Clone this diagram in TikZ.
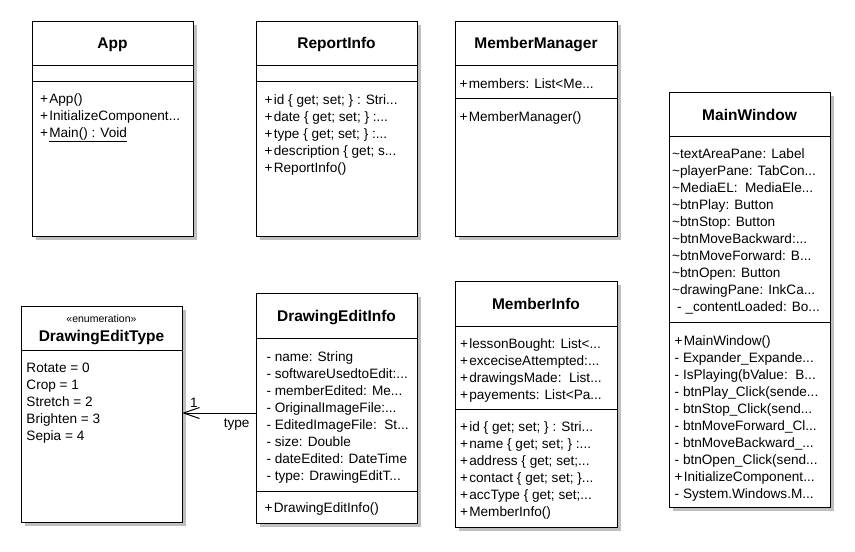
\documentclass[tikz,border=0pt]{standalone}
\usepackage{fontspec}
\setmainfont{Liberation Sans}
\usetikzlibrary{arrows.meta}
\tikzset{
  box/.style={draw=black, line width=1pt, fill=white, inner sep=0pt, outer sep=0pt, anchor=north west},
  shadow/.style={fill=black!25, draw=none},
  ttl/.style={font=\fontsize{15.5}{18}\selectfont\bfseries, anchor=base, inner sep=0pt},
  stereo/.style={font=\fontsize{10.5}{12}\selectfont, anchor=base, inner sep=0pt},
  txt/.style={font=\fontsize{13.6}{17}\selectfont, anchor=base west, inner sep=0pt},
  sepline/.style={line width=1pt},
  assoc/.style={line width=1pt, -{Straight Barb[length=16pt,width=11pt]}},
}
\newcommand\trc{{.}{.}{.}}
\newcommand\pl{+\kern1.2pt}
\newcommand\umlbox[5]{%
  \fill[shadow] (#2+4,#3+4) rectangle (#4+4,#5+4);
  \node[box, minimum width={(#4-#2)*1pt}, minimum height={(#5-#3)*1pt}] (#1) at (#2,#3) {};
}
\newcommand\umlsep[2]{\draw[sepline] (#1.west |- 0,#2) -- (#1.east |- 0,#2);}
\newcommand\umltext[4]{%
  \foreach \t [count=\i from 0] in {#4} {\node[txt] (#1-\i) at (#2,#3+17*\i) {\t};}
}
\begin{document}
\begin{tikzpicture}[x=1pt,y=-1pt]
\useasboundingbox (0,0) rectangle (855,552);
\fill[white] (0,0) rectangle (855,552);

% App
\umlbox{app}{32}{21}{193}{236}
\umlsep{app}{65}\umlsep{app}{81}
\node[ttl] (app-title) at (112.5,48) {App};
\umltext{appm}{40}{103}{\pl App(),\pl InitializeComponent\trc,\pl\underline{Main() : Void}}

% ReportInfo
\umlbox{rep}{256}{21}{417}{236}
\umlsep{rep}{65}\umlsep{rep}{81}
\node[ttl] (rep-title) at (336.5,48) {ReportInfo};
\umltext{repm}{264.5}{104}{\pl id \{ get; set; \} : Stri\trc,\pl date \{ get; set; \} :\trc,\pl type \{ get; set; \} :\trc,\pl description \{ get; s\trc,\pl ReportInfo()}

% MemberManager
\umlbox{mm}{455}{21}{617}{236}
\umlsep{mm}{65}\umlsep{mm}{98}
\node[ttl] (mm-title) at (536,48) {MemberManager};
\umltext{mma}{459.5}{88}{\pl members: List<Me\trc}
\umltext{mmm}{459.5}{121}{\pl MemberManager()}

% MainWindow
\umlbox{mw}{669}{92}{830}{507}
\umlsep{mw}{136}\umlsep{mw}{322}
\node[ttl] (mw-title) at (749.5,120.5) {MainWindow};
\umltext{mwa}{672}{158.5}{\textasciitilde textAreaPane: Label,\textasciitilde playerPane: TabCon\trc,\textasciitilde MediaEL:\ \ MediaEle\trc,\textasciitilde btnPlay: Button,\textasciitilde btnStop: Button,\textasciitilde btnMoveBackward:\trc,\textasciitilde btnMoveForward: B\trc,\textasciitilde btnOpen: Button,\textasciitilde drawingPane: InkCa\trc,\hspace{5pt}- \_contentLoaded: Bo\trc}
\umltext{mwm}{674.5}{345}{\pl MainWindow(),- Expander\_Expande\trc,- IsPlaying(bValue:\ \ B\trc,- btnPlay\_Click(sende\trc,- btnStop\_Click(send\trc,- btnMoveForward\_Cl\trc,- btnMoveBackward\_\trc,- btnOpen\_Click(send\trc,\pl InitializeComponent\trc,- System.Windows.M\trc}

% DrawingEditType
\umlbox{det}{21}{306}{182}{522}
\umlsep{det}{350}
\node[stereo] (det-st) at (101.5,322) {«enumeration»};
\node[ttl] (det-title) at (101.5,341.5) {DrawingEditType};
\umltext{detv}{26.3}{372.5}{Rotate = 0,Crop = 1,Stretch = 2,Brighten = 3,Sepia = 4}

% DrawingEditInfo
\umlbox{dei}{256}{293}{417}{523}
\umlsep{dei}{338}\umlsep{dei}{491}
\node[ttl] (dei-title) at (336.5,321.5) {DrawingEditInfo};
\umltext{deia}{266.3}{361}{- name: String,- softwareUsedtoEdit:\trc,- memberEdited: Me\trc,- OriginalImageFile:\trc,- EditedImageFile:\ \ St\trc,- size: Double,- dateEdited: DateTime,- type: DrawingEditT\trc}
\umltext{deim}{264.5}{512.5}{\pl DrawingEditInfo()}

% MemberInfo
\umlbox{mi}{455}{281}{617}{527}
\umlsep{mi}{326}\umlsep{mi}{409}
\node[ttl] (mi-title) at (536,309.3) {MemberInfo};
\umltext{mia}{460}{348}{\pl lessonBought: List<\trc,\pl exceciseAttempted:\trc,\pl drawingsMade:\ \ List\trc,\pl payements: List<Pa\trc}
\umltext{mim}{460}{431}{\pl id \{ get; set; \} : Stri\trc,\pl name \{ get; set; \} :\trc,\pl address \{ get; set;\trc,\pl contact \{ get; set; \}\trc,\pl accType \{ get; set;\trc,\pl MemberInfo()}

% association
\draw[assoc] (dei.west |- 0,413) -- (det.east |- 0,413);
\node[txt, anchor=base] (mult) at (194,407) {1};
\node[txt, anchor=base] (role) at (236.7,427.7) {type};
\end{tikzpicture}
\end{document}
